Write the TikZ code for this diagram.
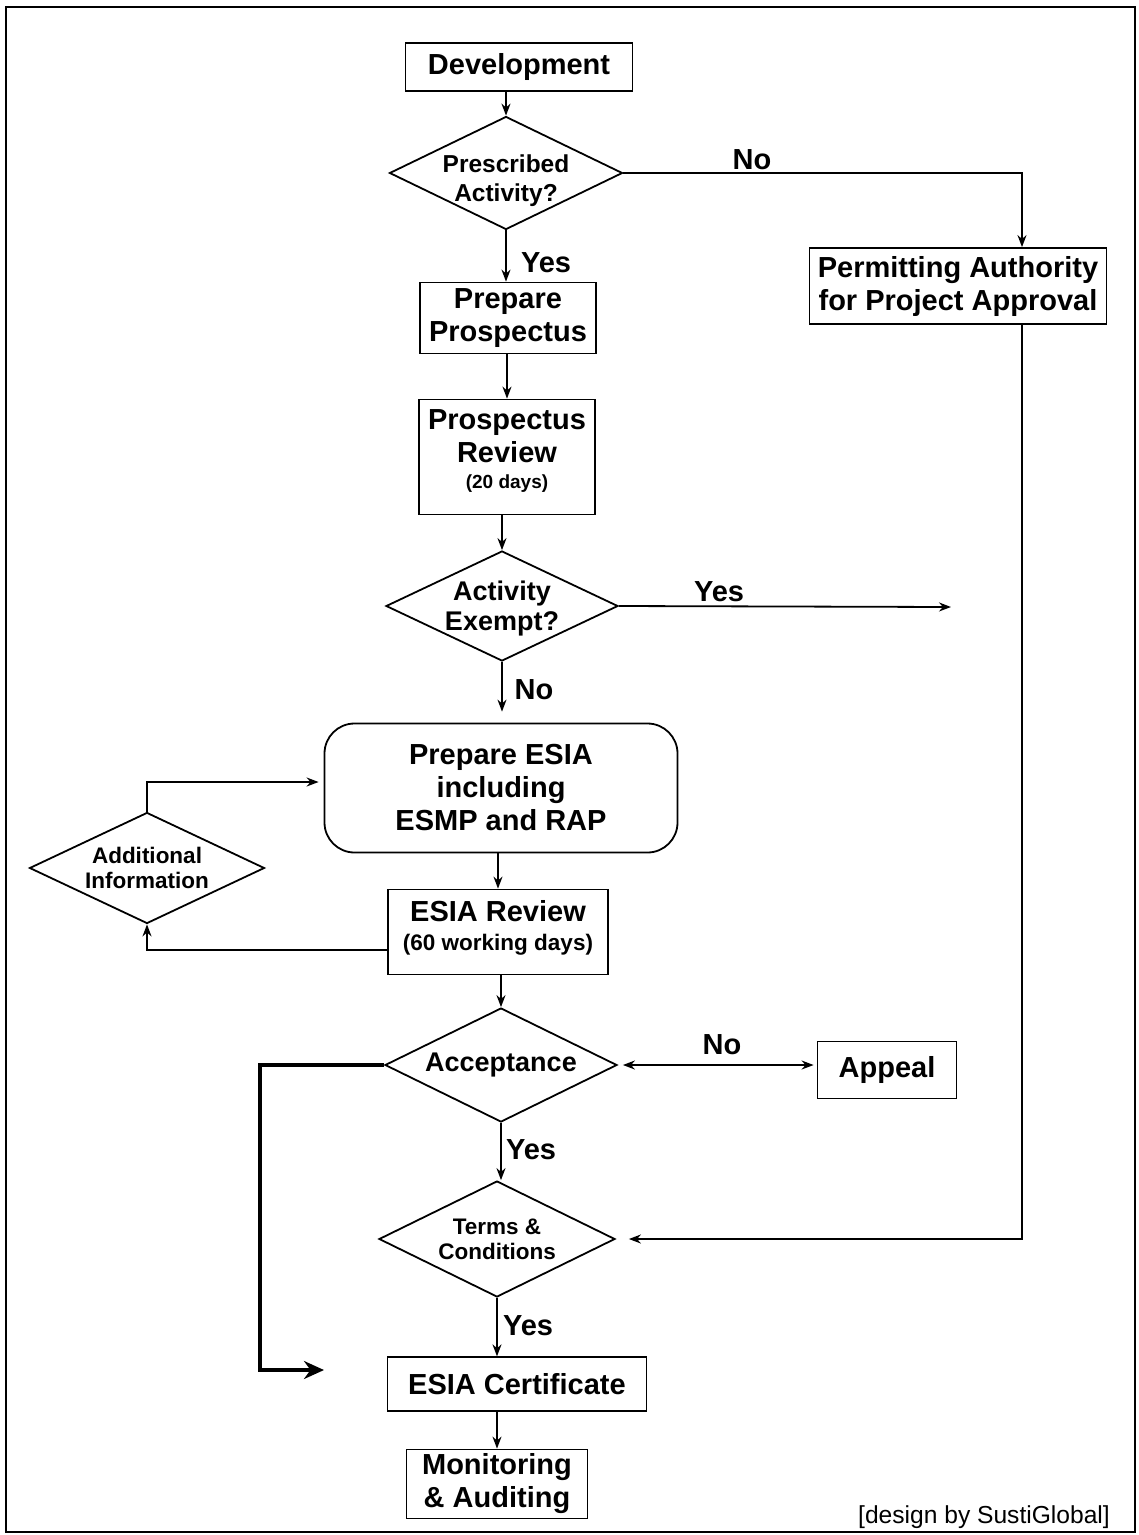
\documentclass[tikz,border=0pt]{standalone}
\usepackage{fontspec}
\setmainfont{Liberation Sans}
\usetikzlibrary{shapes.geometric,arrows.meta,calc}
\newcommand\bigf{\fontsize{29}{33}\selectfont\bfseries}
\newcommand\dmf{\fontsize{27}{30}\selectfont\bfseries}
\newcommand\paf{\fontsize{24.5}{29}\selectfont\bfseries}
\newcommand\smf{\fontsize{22.5}{25}\selectfont\bfseries}
\tikzset{
  box/.style={draw, line width=1.8pt, inner sep=0pt, align=center, font=\bigf},
  dia/.style={draw, diamond, line width=1.8pt, inner sep=0pt},
  tip/.style={-{Stealth[length=12pt,width=9pt]}},
  arr/.style={line width=1.8pt, tip},
  lbl/.style={font=\bigf, inner sep=0pt},
}
\begin{document}
\begin{tikzpicture}[x=1pt,y=-1pt]
\useasboundingbox (0,0) rectangle (1139,1535);
\draw[line width=2pt] (6,7) rectangle (1135,1532);

% nodes
\node[box, minimum width=227pt, minimum height=48pt] (dev) at (519,67) {Development};
\node[dia, minimum width=233pt, minimum height=113pt,
      label={[font=\paf, align=center, yshift=-8pt]center:Prescribed\\Activity?}] (pa) at (506,173) {};
\node[box, minimum width=297pt, minimum height=76pt] (perm) at (958,286) {Permitting Authority\\for Project Approval};
\node[box, minimum width=176pt, minimum height=71pt] (prep) at (508,318) {Prepare\\Prospectus};
\node[box, minimum width=176pt, minimum height=115pt] (prev) at (507,457)
   {\raisebox{5pt}[\height][\depth]{\begin{tabular}{@{}c@{}}Prospectus\\[0pt]Review\\[-7pt]{\fontsize{19}{22}\selectfont\bfseries (20 days)}\end{tabular}}};
\node[dia, minimum width=232pt, minimum height=110pt,
      label={[font=\dmf, align=center, yshift=-3pt]center:Activity\\Exempt?}] (ae) at (502,606) {};
\node[box, rounded corners=30pt, minimum width=353pt, minimum height=129pt] (esia) at (501,788)
   {Prepare ESIA\\including\\ESMP and RAP};
\node[box, minimum width=220pt, minimum height=85pt] (rev) at (498,932)
   {\raisebox{3pt}[\height][\depth]{\begin{tabular}{@{}c@{}}ESIA Review\\[-4pt]{\smf (60 working days)}\end{tabular}}};
\node[dia, minimum width=235pt, minimum height=111pt,
      label={[font=\smf, align=center]center:Additional\\Information}] (ai) at (147,868) {};
\node[dia, minimum width=232pt, minimum height=114pt,
      label={[font=\dmf, align=center]center:Acceptance}] (acc) at (501,1065) {};
\node[box, minimum width=139pt, minimum height=57pt] (appeal) at (887,1070) {Appeal};
\node[dia, minimum width=236pt, minimum height=116pt,
      label={[font=\smf, align=center]center:Terms \&\\Conditions}] (tc) at (497,1239) {};
\node[box, line width=1.3pt, minimum width=259pt, minimum height=54pt] (cert) at (517,1384) {ESIA Certificate};
\node[box, minimum width=181pt, minimum height=69pt] (mon) at (497,1484) {Monitoring\\\& Auditing};

\coordinate (exemptEnd) at (951,607);
\coordinate (corner) at (260,1370);
\coordinate (thk) at (324,1370);

% labels
\node[lbl] (noPA) at (752,160) {No};
\node[lbl] (yesPA) at (546,263) {Yes};
\node[lbl] (yesAE) at (719,592) {Yes};
\node[lbl] (noAE) at (534,690) {No};
\node[lbl] (noACC) at (722,1045) {No};
\node[lbl] (yesACC) at (531,1150) {Yes};
\node[lbl] (yesTC) at (528,1326) {Yes};
\node[font=\fontsize{24.6}{28}\selectfont, inner sep=0pt] (credit) at (984,1517) {[design by SustiGlobal]};

% connectors
\draw[arr] (pa.north |- dev.south) -- (pa.north);
\draw[arr] (pa.east) -| ([xshift=64pt]perm.north);
\draw[arr] (pa.south) -- (pa.south |- prep.north);
\draw[arr] (prev.north |- prep.south) -- (prev.north);
\draw[arr] (ae.north |- prev.south) -- (ae.north);
\draw[arr] (ae.east) -- (exemptEnd);
\draw[arr, shorten >=11pt] (ae.south) -- (ae.south |- esia.north);
\draw[arr] (rev.north |- esia.south) -- (rev.north);
\draw[arr, shorten >=5pt] (ai.north) |- ([yshift=6pt]esia.west);
\draw[arr] ([yshift=-18pt]rev.west) -| (ai.south);
\draw[arr] (acc.north |- rev.south) -- (acc.north);
\draw[line width=1.8pt, {Stealth[length=12pt,width=9pt]}-{Stealth[length=12pt,width=9pt]}, shorten <=5pt, shorten >=3pt]
   (acc.east) -- (acc.east -| appeal.west);
\draw[line width=3.2pt, -{Stealth[length=20pt,width=18pt]}] (acc.west) -| (corner) -- (thk);
\draw[arr] (acc.south) -- (acc.south |- tc.north);
\draw[arr, shorten >=13pt] ([xshift=64pt]perm.south) |- (tc.east);
\draw[arr] (tc.south) -- (tc.south |- cert.north);
\draw[arr] (mon.north |- cert.south) -- (mon.north);
\end{tikzpicture}
\end{document}
